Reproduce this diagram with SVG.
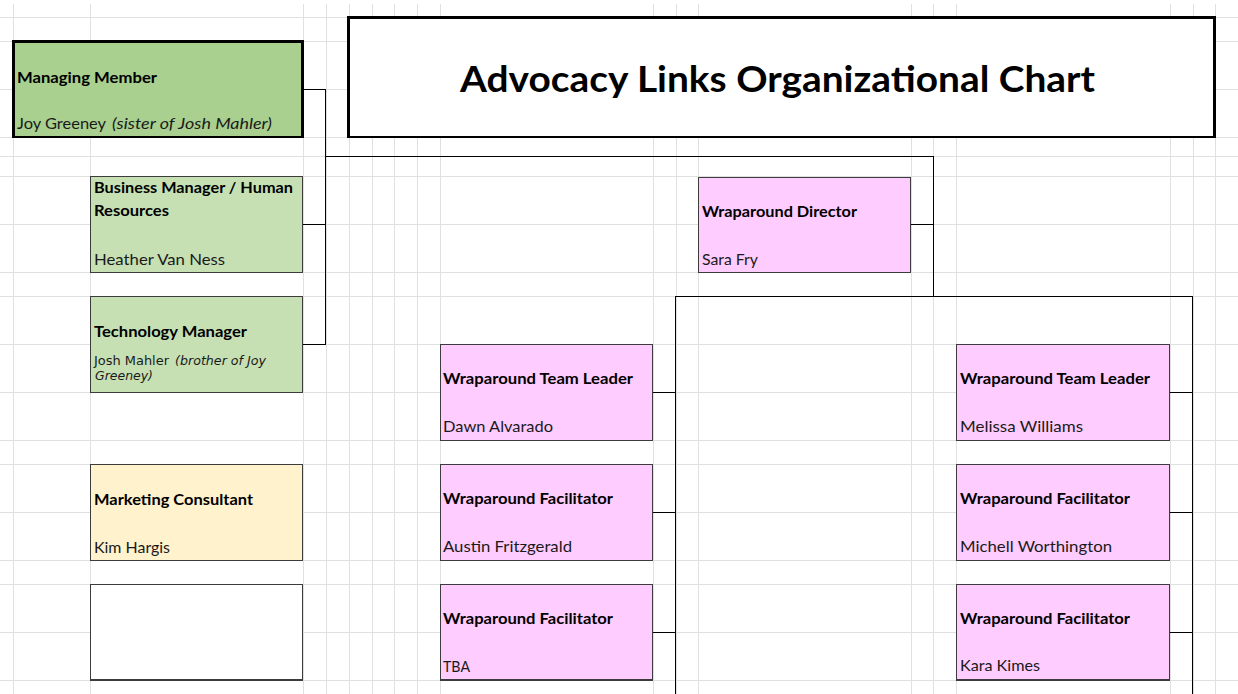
<svg xmlns="http://www.w3.org/2000/svg" width="1238" height="694" viewBox="0 0 1238 694">
  <style>
    .grid { fill: none; stroke: #e0e0e0; stroke-width: 1; shape-rendering: crispEdges; }
    .box { stroke: #3c3c3c; stroke-width: 1.2; shape-rendering: crispEdges; }
    .boxheavy { stroke: #000; stroke-width: 2.4; shape-rendering: crispEdges; }
    .green-dark { fill: #a9d08e; }
    .green { fill: #c6e0b4; }
    .pink { fill: #ffccff; }
    .cream { fill: #fff2cc; }
    .white { fill: #ffffff; }
    .wire { fill: none; stroke: #000; stroke-width: 1.2; shape-rendering: crispEdges; }
    .role { font-family: Lato, "Open Sans", "Liberation Sans", sans-serif; font-weight: bold; font-size: 16px; fill: #000; }
    .name { font-family: Lato, "Open Sans", "Liberation Sans", sans-serif; font-size: 16px; fill: #1a1a1a; }
    .note { font-style: italic; }
    .narrow { font-family: "Liberation Sans Narrow", "DejaVu Sans Condensed", "Liberation Sans", sans-serif; font-size: 12.5px; fill: #1a1a1a; }
    .title { font-family: Lato, "Open Sans", "Liberation Sans", sans-serif; font-weight: bold; font-size: 37px; fill: #000; }
  </style>

  <rect x="0" y="0" width="1238" height="694" fill="#ffffff"/>

  <!-- worksheet cell grid -->
  <path class="grid" d="
    M13.5 4V694 M90.5 4V694 M303.5 4V694 M326.5 4V694 M349.5 4V694 M372.5 4V694
    M394.5 4V694 M417.5 4V694 M440.5 4V694 M653.5 4V694 M676.5 4V694 M698.5 4V694
    M911.5 4V694 M933.5 4V694 M956.5 4V694 M1170.5 4V694 M1193.5 4V694 M1215.5 4V694
    M0 17.5H1238 M0 41.5H1238 M0 89.5H1238 M0 137.5H1238 M0 156.5H1238 M0 176.5H1238
    M0 224.5H1238 M0 272.5H1238 M0 296.5H1238 M0 344.5H1238 M0 392.5H1238 M0 440.5H1238
    M0 464.5H1238 M0 512.5H1238 M0 560.5H1238 M0 584.5H1238 M0 632.5H1238 M0 680.5H1238"/>

  <!-- reporting lines -->
  <g id="connectors">
    <path class="wire" d="M303 89.5H325.5V344.5H303"/>
    <path class="wire" d="M303 224.5H325.5"/>
    <path class="wire" d="M325.5 156.5H933.5V296.5"/>
    <path class="wire" d="M911 224.5H933.5"/>
    <path class="wire" d="M675.5 694V296.5H1192.5V694"/>
    <path class="wire" d="M652 392.5H675.5 M652 512.5H675.5 M652 632.5H675.5"/>
    <path class="wire" d="M1169 392.5H1192.5 M1169 512.5H1192.5 M1169 632.5H1192.5"/>
  </g>

  <g id="title">
    <rect class="boxheavy white" x="348.5" y="17.5" width="866" height="119.5"/>
    <text class="title" x="460" y="92" textLength="635" lengthAdjust="spacingAndGlyphs">Advocacy Links Organizational Chart</text>
  </g>

  <g id="managing-member">
    <rect class="boxheavy green-dark" x="13.5" y="41.5" width="289" height="95.5"/>
    <text class="role" x="17" y="83" textLength="140" lengthAdjust="spacingAndGlyphs">Managing Member</text>
    <text class="name" x="17" y="129" textLength="89" lengthAdjust="spacingAndGlyphs">Joy Greeney</text>
    <text class="name note" x="112" y="129" textLength="160" lengthAdjust="spacingAndGlyphs">(sister of Josh Mahler)</text>
  </g>

  <g id="business-manager">
    <rect class="box green" x="90.5" y="176.5" width="212" height="96"/>
    <text class="role" x="94" y="193" textLength="199" lengthAdjust="spacingAndGlyphs">Business Manager / Human</text>
    <text class="role" x="94" y="216" textLength="75" lengthAdjust="spacingAndGlyphs">Resources</text>
    <text class="name" x="94" y="265" textLength="131" lengthAdjust="spacingAndGlyphs">Heather Van Ness</text>
  </g>

  <g id="technology-manager">
    <rect class="box green" x="90.5" y="296.5" width="212" height="96"/>
    <text class="role" x="94" y="337" textLength="153" lengthAdjust="spacingAndGlyphs">Technology Manager</text>
    <text class="narrow" x="94" y="365" textLength="75" lengthAdjust="spacingAndGlyphs">Josh Mahler</text>
    <text class="narrow note" x="175" y="365" textLength="91" lengthAdjust="spacingAndGlyphs">(brother of Joy</text>
    <text class="narrow note" x="95" y="380" textLength="58" lengthAdjust="spacingAndGlyphs">Greeney)</text>
  </g>

  <g id="marketing-consultant">
    <rect class="box cream" x="90.5" y="464.5" width="212" height="96"/>
    <text class="role" x="94" y="505" textLength="159" lengthAdjust="spacingAndGlyphs">Marketing Consultant</text>
    <text class="name" x="94" y="553" textLength="76" lengthAdjust="spacingAndGlyphs">Kim Hargis</text>
  </g>

  <g id="open-position">
    <rect class="box white" x="90.5" y="584.5" width="212" height="95.5"/>
  </g>

  <g id="wraparound-director">
    <rect class="box pink" x="698.5" y="177.5" width="212" height="95"/>
    <text class="role" x="702" y="217" textLength="155" lengthAdjust="spacingAndGlyphs">Wraparound Director</text>
    <text class="name" x="702" y="265" textLength="56" lengthAdjust="spacingAndGlyphs">Sara Fry</text>
  </g>

  <g id="team-leader-west">
    <rect class="box pink" x="440.5" y="344.5" width="212" height="96"/>
    <text class="role" x="443" y="384" textLength="190" lengthAdjust="spacingAndGlyphs">Wraparound Team Leader</text>
    <text class="name" x="443" y="432" textLength="110" lengthAdjust="spacingAndGlyphs">Dawn Alvarado</text>
  </g>

  <g id="facilitator-west-1">
    <rect class="box pink" x="440.5" y="464.5" width="212" height="96"/>
    <text class="role" x="443" y="504" textLength="170" lengthAdjust="spacingAndGlyphs">Wraparound Facilitator</text>
    <text class="name" x="443" y="552" textLength="129" lengthAdjust="spacingAndGlyphs">Austin Fritzgerald</text>
  </g>

  <g id="facilitator-west-2">
    <rect class="box pink" x="440.5" y="584.5" width="212" height="95.5"/>
    <text class="role" x="443" y="624" textLength="170" lengthAdjust="spacingAndGlyphs">Wraparound Facilitator</text>
    <text class="name" x="443" y="672" textLength="27" lengthAdjust="spacingAndGlyphs">TBA</text>
  </g>

  <g id="team-leader-east">
    <rect class="box pink" x="956.5" y="344.5" width="213" height="96"/>
    <text class="role" x="960" y="384" textLength="190" lengthAdjust="spacingAndGlyphs">Wraparound Team Leader</text>
    <text class="name" x="960" y="432" textLength="123" lengthAdjust="spacingAndGlyphs">Melissa Williams</text>
  </g>

  <g id="facilitator-east-1">
    <rect class="box pink" x="956.5" y="464.5" width="213" height="96"/>
    <text class="role" x="960" y="504" textLength="170" lengthAdjust="spacingAndGlyphs">Wraparound Facilitator</text>
    <text class="name" x="960" y="552" textLength="152" lengthAdjust="spacingAndGlyphs">Michell Worthington</text>
  </g>

  <g id="facilitator-east-2">
    <rect class="box pink" x="956.5" y="584.5" width="213" height="95.5"/>
    <text class="role" x="960" y="624" textLength="170" lengthAdjust="spacingAndGlyphs">Wraparound Facilitator</text>
    <text class="name" x="960" y="671" textLength="80" lengthAdjust="spacingAndGlyphs">Kara Kimes</text>
  </g>
</svg>
